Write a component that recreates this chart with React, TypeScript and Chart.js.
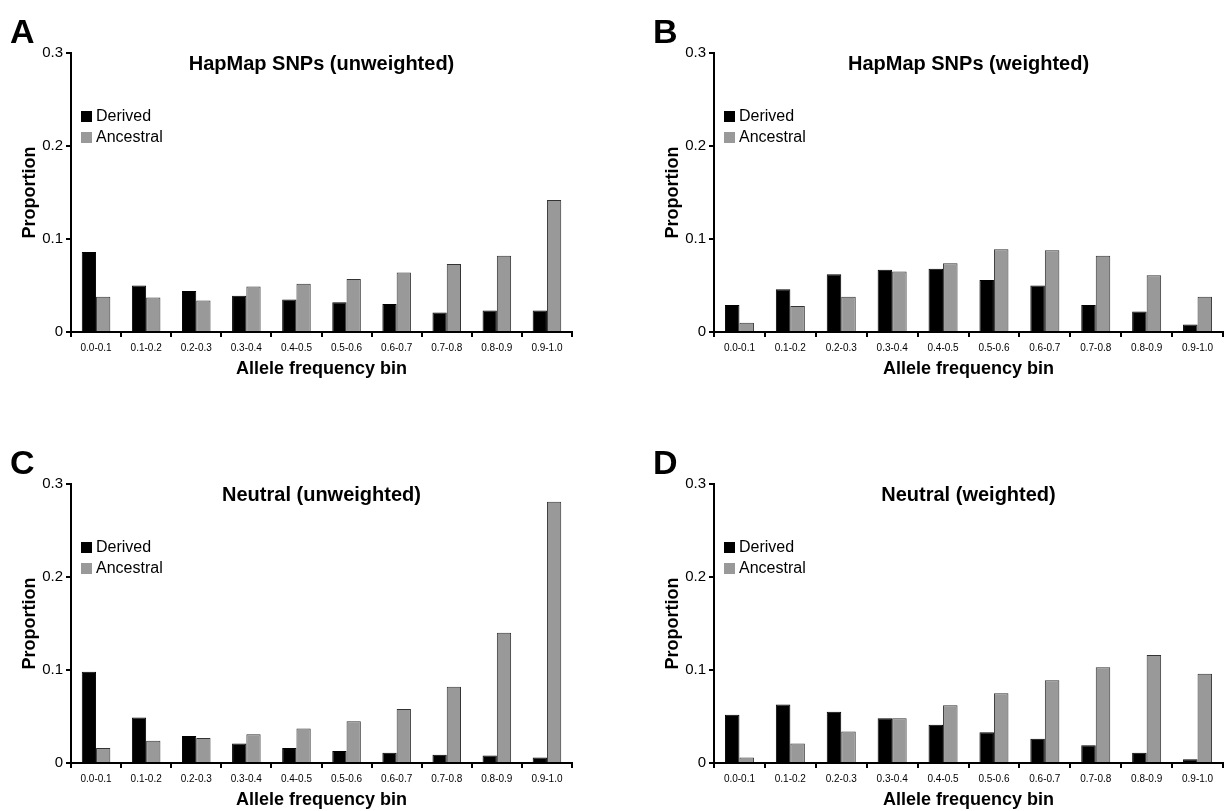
import React, { useEffect, useRef } from "react";
import { Chart, registerables } from "chart.js";

Chart.register(...registerables);

const binLabels = ["0.0-0.1", "0.1-0.2", "0.2-0.3", "0.3-0.4", "0.4-0.5", "0.5-0.6", "0.6-0.7", "0.7-0.8", "0.8-0.9", "0.9-1.0"];
const yTickValues = [0, 0.1, 0.2, 0.3];
const seriesNames = ["Derived", "Ancestral"];

const hapmapUnweightedDerived = [0.086, 0.050, 0.044, 0.039, 0.035, 0.032, 0.030, 0.021, 0.023, 0.023];
const hapmapUnweightedAncestral = [0.038, 0.037, 0.034, 0.049, 0.052, 0.057, 0.064, 0.073, 0.082, 0.142];
const hapmapWeightedDerived = [0.029, 0.046, 0.062, 0.067, 0.068, 0.056, 0.050, 0.029, 0.022, 0.008];
const hapmapWeightedAncestral = [0.010, 0.028, 0.038, 0.065, 0.074, 0.089, 0.088, 0.082, 0.061, 0.038];
const neutralUnweightedDerived = [0.098, 0.049, 0.029, 0.021, 0.016, 0.013, 0.011, 0.009, 0.008, 0.006];
const neutralUnweightedAncestral = [0.016, 0.024, 0.027, 0.031, 0.037, 0.045, 0.058, 0.082, 0.140, 0.281];
const neutralWeightedDerived = [0.052, 0.063, 0.055, 0.048, 0.041, 0.033, 0.026, 0.019, 0.011, 0.004];
const neutralWeightedAncestral = [0.006, 0.021, 0.034, 0.048, 0.062, 0.075, 0.089, 0.103, 0.116, 0.096];

const FONT = "'Liberation Sans', Arial, Helvetica, sans-serif";
const CANVAS_H = 380;
const PLOT_TOP = 53;
const PLOT_BOTTOM = 332;
const Y_AXIS_W = 71;

type Panel = {
  letter: string;
  title: string;
  derived: number[];
  ancestral: number[];
  left: number;
  top: number;
  width: number;
  plotRight: number;
};

const panels: Panel[] = [
  { letter: "A", title: "HapMap SNPs (unweighted)", derived: hapmapUnweightedDerived, ancestral: hapmapUnweightedAncestral, left: 0, top: 0, width: 643, plotRight: 572 },
  { letter: "B", title: "HapMap SNPs (weighted)", derived: hapmapWeightedDerived, ancestral: hapmapWeightedAncestral, left: 643, top: 0, width: 584, plotRight: 580 },
  { letter: "C", title: "Neutral (unweighted)", derived: neutralUnweightedDerived, ancestral: neutralUnweightedAncestral, left: 0, top: 431, width: 643, plotRight: 572 },
  { letter: "D", title: "Neutral (weighted)", derived: neutralWeightedDerived, ancestral: neutralWeightedAncestral, left: 643, top: 431, width: 584, plotRight: 580 },
];

const decorPlugin = {
  id: "panelDecor",
  afterDraw(chart: any) {
    const opts = chart.options.plugins.panelDecor;
    const { ctx, chartArea } = chart;
    ctx.save();
    // panel letter
    ctx.fillStyle = "#000";
    ctx.font = `bold 34px ${FONT}`;
    ctx.textAlign = "left";
    ctx.textBaseline = "alphabetic";
    ctx.fillText(opts.letter, 10, 43);
    // title inside plot area
    ctx.font = `bold 20px ${FONT}`;
    ctx.textAlign = "center";
    ctx.textBaseline = "middle";
    ctx.fillText(opts.title, (chartArea.left + chartArea.right) / 2, chartArea.top + 11);
    // legend
    ctx.font = `16px ${FONT}`;
    ctx.textAlign = "left";
    chart.data.datasets.forEach((ds: any, i: number) => {
      const bx = chartArea.left + 10;
      const by = chartArea.top + 58 + i * 21;
      ctx.fillStyle = ds.backgroundColor;
      ctx.fillRect(bx, by, 11, 11);
      ctx.fillStyle = "#000";
      ctx.fillText(ds.label, bx + 15, by + 6);
    });
    ctx.restore();
  },
};

function PanelChart({ panel }: { panel: Panel }) {
  const ref = useRef<HTMLCanvasElement | null>(null);
  useEffect(() => {
    if (!ref.current) return;
    const chart = new Chart(ref.current, {
      type: "bar",
      data: {
        labels: binLabels,
        datasets: [
          {
            label: seriesNames[0],
            data: panel.derived,
            backgroundColor: "#000000",
            borderColor: "#000000",
            borderWidth: 1,
          },
          {
            label: seriesNames[1],
            data: panel.ancestral,
            backgroundColor: "#999999",
            borderColor: "#333333",
            borderWidth: 1,
          },
        ],
      },
      options: {
        responsive: false,
        animation: false,
        devicePixelRatio: 1,
        layout: { padding: { top: PLOT_TOP, left: 0, right: panel.width - panel.plotRight, bottom: 0 } },
        datasets: { bar: { barPercentage: 1, categoryPercentage: 0.57 } },
        plugins: {
          legend: { display: false },
          title: { display: false },
          tooltip: { enabled: false },
          panelDecor: { letter: panel.letter, title: panel.title },
        } as any,
        scales: {
          x: {
            offset: true,
            afterFit: (s: any) => { s.height = CANVAS_H - PLOT_BOTTOM; },
            grid: { display: true, offset: true, drawOnChartArea: false, drawTicks: true, tickLength: 5, color: "#000", lineWidth: 2 },
            border: { display: true, color: "#000", width: 2 },
            ticks: { color: "#000", font: { family: FONT, size: 10 }, padding: 5, maxRotation: 0, autoSkip: false },
            title: { display: true, text: "Allele frequency bin", color: "#000", font: { family: FONT, size: 18, weight: "bold" }, padding: { top: 0, bottom: 0 } },
          },
          y: {
            min: 0,
            max: 0.3,
            afterFit: (s: any) => { s.width = Y_AXIS_W; },
            afterBuildTicks: (s: any) => { s.ticks = yTickValues.map((v) => ({ value: v })); },
            grid: { display: true, drawOnChartArea: false, drawTicks: true, tickLength: 5, color: "#000", lineWidth: 2 },
            border: { display: true, color: "#000", width: 2 },
            ticks: {
              color: "#000",
              font: { family: FONT, size: 15 },
              padding: 3,
              callback: (v: any) => (Number(v) === 0 ? "0" : Number(v).toFixed(1)),
            },
            title: { display: true, text: "Proportion", color: "#000", font: { family: FONT, size: 18, weight: "bold" }, padding: { top: 19, bottom: 0 } },
          },
        },
      },
      plugins: [decorPlugin],
    } as any);
    return () => chart.destroy();
  }, [panel]);
  return (
    <canvas
      ref={ref}
      width={panel.width}
      height={CANVAS_H}
      style={{ position: "absolute", left: panel.left, top: panel.top, width: panel.width, height: CANVAS_H }}
    />
  );
}

export default function App() {
  return (
    <div style={{ position: "absolute", left: 0, top: 0, width: 1227, height: 811, background: "#fff", overflow: "hidden" }}>
      {panels.map((p) => (
        <PanelChart key={p.letter} panel={p} />
      ))}
    </div>
  );
}
